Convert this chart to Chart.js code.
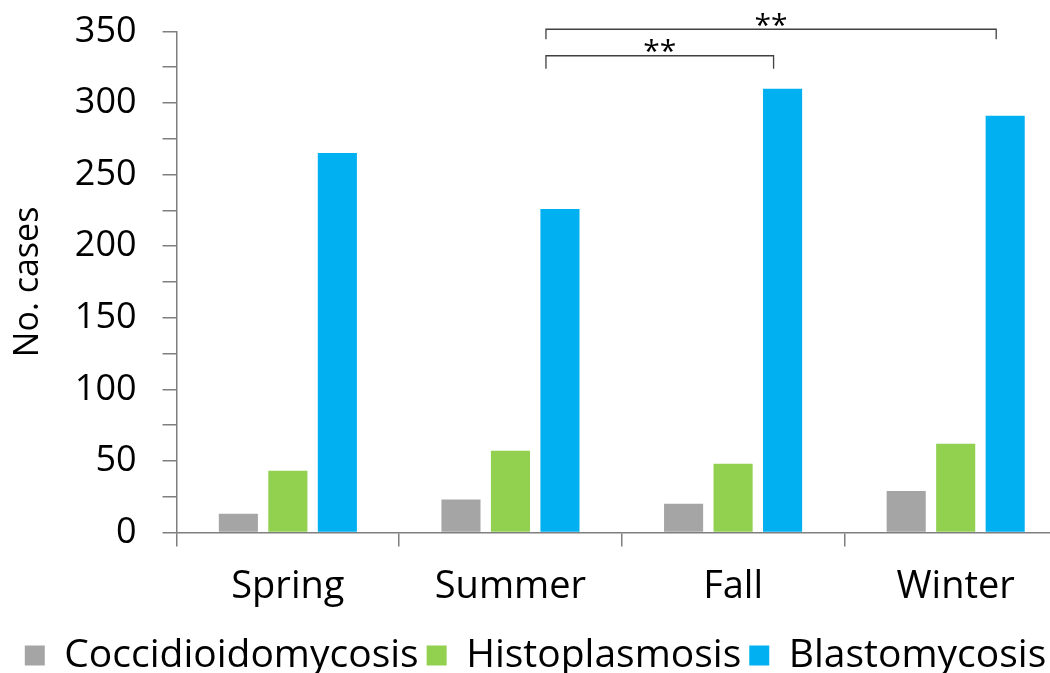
<!DOCTYPE html>
<html>
<head>
<meta charset="utf-8">
<script src="https://cdn.jsdelivr.net/npm/chart.js@4"></script>
<style>
  body { margin: 0; overflow: hidden; background: #fff; }
  #wrap { width: 1068px; height: 673px; }
</style>
</head>
<body>
<div id="wrap"><canvas id="bar-chart"></canvas></div>
<script>
// data
const seasons = ['Spring', 'Summer', 'Fall', 'Winter'];
const cocci = [13, 23, 20, 29];
const histo = [43, 57, 48, 62];
const blasto = [265, 226, 310, 291];
const yTicks = [0, 50, 100, 150, 200, 250, 300, 350];
// significance brackets: [from season, to season, label]
const sigFrom = [1, 1];
const sigTo = [2, 3];
const sigLabel = ['**', '**'];

const FONT = '"Open Sans", sans-serif';
const AXIS = '#7f7f7f';

// draws the ** brackets above the blue bars
const bracketPlugin = {
    id: 'brackets',
    afterDraw(chart) {
        const c = chart.ctx;
        const y = chart.scales.y;
        const blue = chart.getDatasetMeta(2).data;
        const levels = [333, 351.5];
        c.save();
        c.strokeStyle = '#404040';
        c.lineWidth = 1.3;
        c.fillStyle = '#000';
        c.font = '30px ' + FONT;
        c.textAlign = 'center';
        c.textBaseline = 'bottom';
        for (let i = 0; i < sigFrom.length; i++) {
            const x1 = blue[sigFrom[i]].x - 14;
            const x2 = blue[sigTo[i]].x - 9;
            const yy = y.getPixelForValue(levels[i]);
            const drop = i === 0 ? 13 : 10;
            c.beginPath();
            c.moveTo(x1, yy + drop);
            c.lineTo(x1, yy);
            c.lineTo(x2, yy);
            c.lineTo(x2, yy + drop);
            c.stroke();
            c.fillText(sigLabel[i], (x1 + x2) / 2, yy + 12);
        }
        c.restore();
    }
};

const ctx = document.querySelector('#bar-chart');
const myChart = new Chart(ctx, {
    type: 'bar',
    data: {
        labels: seasons,
        datasets: [
            { label: 'Coccidioidomycosis', data: cocci, backgroundColor: '#a5a5a5' },
            { label: 'Histoplasmosis', data: histo, backgroundColor: '#92d050' },
            { label: 'Blastomycosis', data: blasto, backgroundColor: '#00b0f0' }
        ]
    },
    options: {
        responsive: true,
        maintainAspectRatio: false,
        animation: false,
        datasets: {
            bar: { barPercentage: 0.79, categoryPercentage: 0.667 }
        },
        layout: { padding: { top: 0, right: 1, left: 4, bottom: -12 } },
        plugins: {
            legend: {
                position: 'bottom',
                labels: {
                    font: { family: FONT, size: 39 },
                    color: '#000',
                    boxWidth: 20,
                    boxHeight: 20,
                    padding: 8
                }
            },
            tooltip: { enabled: false }
        },
        scales: {
            x: {
                grid: {
                    drawOnChartArea: false,
                    color: AXIS,
                    lineWidth: 1.5,
                    tickLength: 14
                },
                border: { color: AXIS, width: 1.5 },
                ticks: {
                    color: '#000',
                    font: { family: FONT, size: 38 },
                    padding: 18
                }
            },
            y: {
                min: 0,
                max: 350,
                grid: {
                    drawOnChartArea: false,
                    color: AXIS,
                    lineWidth: 1.5,
                    tickLength: 14
                },
                border: { color: AXIS, width: 1.5 },
                ticks: {
                    stepSize: 25,
                    autoSkip: false,
                    color: '#000',
                    font: { family: FONT, size: 36, lineHeight: 0.3 },
                    padding: 26,
                    callback: (v) => yTicks.includes(v) ? v : ''
                },
                title: {
                    display: true,
                    text: 'No. cases',
                    color: '#000',
                    font: { family: FONT, size: 34 },
                    padding: { bottom: 0 }
                }
            }
        }
    },
    plugins: [bracketPlugin]
});
</script>
</body>
</html>
